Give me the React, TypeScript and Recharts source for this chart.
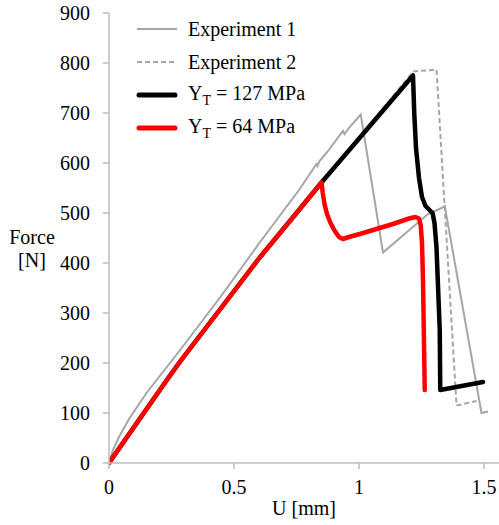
import React from 'react';
import { LineChart, Line, XAxis, YAxis, Legend } from 'recharts';

const FONT = '"Liberation Serif", "Times New Roman", serif';

const xTicks = [0, 0.5, 1, 1.5];
const yTicks = [0, 100, 200, 300, 400, 500, 600, 700, 800, 900];

const exp1 = [
  { x: 0, y: 0 }, { x: 0.015, y: 25 }, { x: 0.04, y: 52 }, { x: 0.08, y: 88 },
  { x: 0.15, y: 140 }, { x: 0.283, y: 225 }, { x: 0.45, y: 335 }, { x: 0.603, y: 441 },
  { x: 0.763, y: 548 }, { x: 0.83, y: 598 }, { x: 0.834, y: 594 }, { x: 0.842, y: 604 },
  { x: 0.876, y: 624 }, { x: 0.936, y: 664 }, { x: 0.942, y: 658 }, { x: 0.956, y: 668 },
  { x: 1.007, y: 697 }, { x: 1.096, y: 421 }, { x: 1.276, y: 498 }, { x: 1.33, y: 510 },
  { x: 1.343, y: 514 }, { x: 1.49, y: 100 }, { x: 1.516, y: 103 },
];

const exp2 = [
  { x: 0, y: 0 }, { x: 0.283, y: 200 }, { x: 0.603, y: 411 }, { x: 0.85, y: 561 },
  { x: 1.217, y: 783 }, { x: 1.31, y: 787 }, { x: 1.39, y: 115 },
  { x: 1.47, y: 124 },
];

const yt127 = [
  { x: 0, y: 0 }, { x: 0.1, y: 72 }, { x: 0.23, y: 165 }, { x: 0.283, y: 202 },
  { x: 0.45, y: 311 }, { x: 0.603, y: 411 }, { x: 0.75, y: 500 }, { x: 0.85, y: 561 },
  { x: 1.216, y: 775 }, { x: 1.221, y: 700 }, { x: 1.228, y: 630 },
  { x: 1.24, y: 570 }, { x: 1.252, y: 532 }, { x: 1.266, y: 514 }, { x: 1.282, y: 506 },
  { x: 1.294, y: 500 }, { x: 1.302, y: 480 }, { x: 1.31, y: 431 }, { x: 1.323, y: 265 },
  { x: 1.325, y: 146 }, { x: 1.496, y: 162 },
];

const yt64 = [
  { x: 0, y: 0 }, { x: 0.1, y: 72 }, { x: 0.23, y: 165 }, { x: 0.283, y: 202 },
  { x: 0.45, y: 311 }, { x: 0.603, y: 411 }, { x: 0.75, y: 500 }, { x: 0.85, y: 561 },
  { x: 0.855, y: 540 }, { x: 0.862, y: 518 }, { x: 0.872, y: 498 }, { x: 0.886, y: 480 },
  { x: 0.902, y: 465 }, { x: 0.92, y: 452 }, { x: 0.936, y: 448 }, { x: 0.96, y: 452 },
  { x: 1.003, y: 458 }, { x: 1.136, y: 478 }, { x: 1.2, y: 489 }, { x: 1.225, y: 492 },
  { x: 1.24, y: 489 }, { x: 1.247, y: 475 }, { x: 1.252, y: 440 },
  { x: 1.256, y: 365 }, { x: 1.263, y: 146 },
];

const legendItems = [
  { main: 'Experiment 1', sub: '', rest: '', color: '#a6a6a6', width: 2, dash: undefined as string | undefined },
  { main: 'Experiment 2', sub: '', rest: '', color: '#a6a6a6', width: 2, dash: '5 3' },
  { main: 'Y', sub: 'T', rest: ' = 127 MPa', color: '#000000', width: 5, dash: undefined },
  { main: 'Y', sub: 'T', rest: ' = 64 MPa', color: '#ff0000', width: 5, dash: undefined },
];

function LegendContent() {
  return (
    <div style={{ fontFamily: FONT, fontSize: 20, color: '#000' }}>
      {legendItems.map((it, i) => (
        <div key={i} style={{ display: 'flex', alignItems: 'center', height: 33 }}>
          <svg width={42} height={10} style={{ display: 'block' }}>
            <line
              x1={it.width > 3 ? 3 : 1}
              y1={5}
              x2={it.width > 3 ? 39 : 41}
              y2={5}
              stroke={it.color}
              strokeWidth={it.width}
              strokeDasharray={it.dash}
              strokeLinecap={it.width > 3 ? 'round' : 'butt'}
            />
          </svg>
          <span style={{ marginLeft: 10, whiteSpace: 'nowrap', lineHeight: '22px' }}>
            {it.main}
            {it.sub ? (
              <span style={{ fontSize: 14, position: 'relative', top: 5 }}>{it.sub}</span>
            ) : null}
            {it.rest}
          </span>
        </div>
      ))}
    </div>
  );
}

const YLabel = () => (
  <text fontFamily={FONT} fontSize={20} fill="#000" textAnchor="middle">
    <tspan x={32} y={244}>Force</tspan>
    <tspan x={32} y={267}>[N]</tspan>
  </text>
);

export default function App() {
  return (
    <div style={{ position: 'absolute', left: 0, top: 0, background: '#fff' }}>
      <LineChart width={499} height={525} margin={{ top: 13, right: 0, bottom: 0, left: 0 }}>
        <XAxis
          dataKey="x"
          type="number"
          domain={[0, 1.56]}
          ticks={xTicks}
          interval={0}
          allowDataOverflow
          tickSize={6}
          tickMargin={11}
          height={62}
          axisLine={{ stroke: '#bcbcbc', strokeWidth: 1.5 }}
          tickLine={{ stroke: '#bcbcbc', strokeWidth: 1.5 }}
          tick={{ fill: '#000', fontSize: 20, fontFamily: FONT }}
          label={{ value: 'U [mm]', position: 'insideBottom', offset: 10, fill: '#000', fontSize: 20, fontFamily: FONT }}
        />
        <YAxis
          type="number"
          domain={[0, 900]}
          ticks={yTicks}
          interval={0}
          width={109}
          tickSize={6}
          tickMargin={13}
          axisLine={{ stroke: '#bcbcbc', strokeWidth: 1.5 }}
          tickLine={{ stroke: '#bcbcbc', strokeWidth: 1.5 }}
          tick={{ fill: '#000', fontSize: 20, fontFamily: FONT }}
          label={{ content: YLabel }}
        />
        <Legend
          layout="vertical"
          align="center"
          verticalAlign="middle"
          content={LegendContent}
          wrapperStyle={{ position: 'absolute', left: 136, top: 12, width: 'auto', height: 'auto' }}
        />
        <Line data={exp1} dataKey="y" name="Experiment 1" type="linear" stroke="#a6a6a6" strokeWidth={2} dot={false} activeDot={false} isAnimationActive={false} />
        <Line data={exp2} dataKey="y" name="Experiment 2" type="linear" stroke="#a6a6a6" strokeWidth={2} strokeDasharray="5 3" dot={false} activeDot={false} isAnimationActive={false} />
        <Line data={yt127} dataKey="y" name="YT = 127 MPa" type="linear" stroke="#000000" strokeWidth={4.5} strokeLinejoin="round" strokeLinecap="round" dot={false} activeDot={false} isAnimationActive={false} />
        <Line data={yt64} dataKey="y" name="YT = 64 MPa" type="linear" stroke="#ff0000" strokeWidth={4.5} strokeLinejoin="round" strokeLinecap="round" dot={false} activeDot={false} isAnimationActive={false} />
      </LineChart>
    </div>
  );
}
